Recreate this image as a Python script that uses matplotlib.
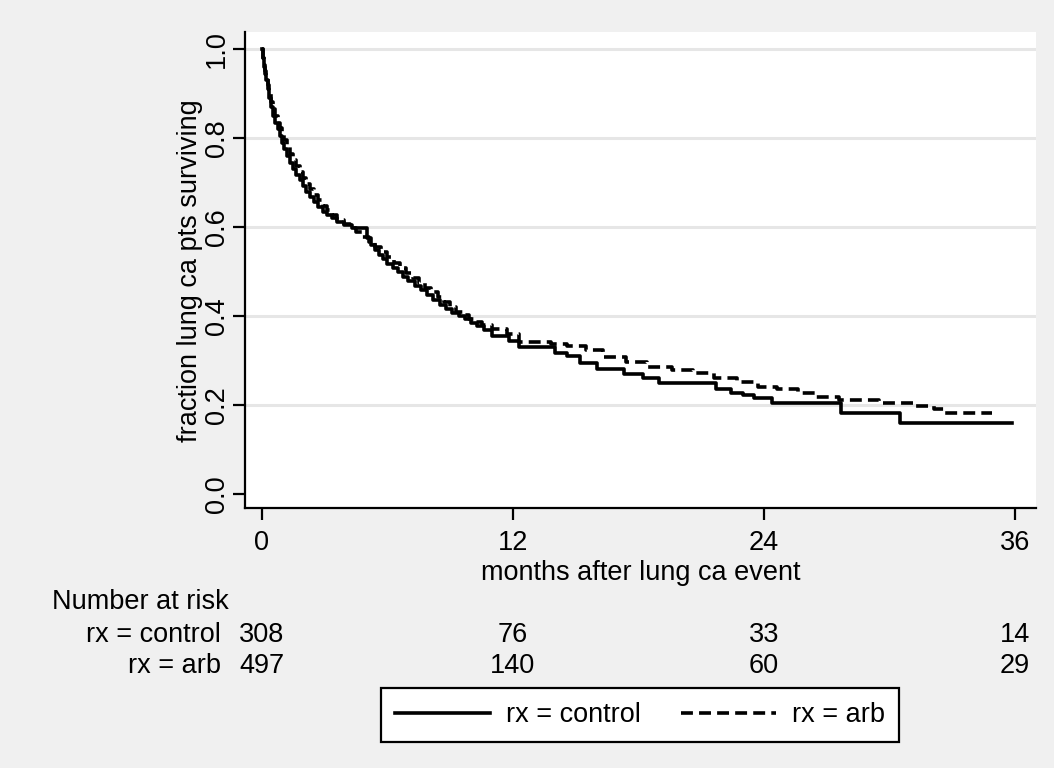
import matplotlib
matplotlib.use('Agg')
import matplotlib.pyplot as plt
import matplotlib.transforms as mtransforms
from matplotlib.lines import Line2D

plt.rcParams['font.family'] = ['Liberation Sans', 'DejaVu Sans']

# KM step points (months, fraction surviving)
t_control = [0, 0.05, 0.1, 0.15, 0.2, 0.28, 0.36, 0.45, 0.55, 0.65,
             0.75, 0.85, 0.95, 1.05, 1.2, 1.35, 1.5, 1.65, 1.8, 1.95,
             2.1, 2.3, 2.5, 2.7, 2.9, 3.1, 3.35, 3.6, 3.9, 4.3,
             5.0, 5.2, 5.4, 5.6, 5.8, 6.0, 6.25, 6.5, 6.75, 7.0,
             7.3, 7.6, 7.9, 8.2, 8.5, 8.8, 9.1, 9.4, 9.7, 10.0,
             10.3, 10.6, 11.0, 11.8, 12.3, 14.0, 14.6, 15.2, 16.0, 17.3,
             18.2, 19.0, 21.7, 22.4, 23.0, 23.5, 24.4, 27.7, 30.5, 35.85]
s_control = [1.0, 0.98, 0.96, 0.945, 0.93, 0.91, 0.89, 0.87, 0.85, 0.835,
             0.82, 0.805, 0.79, 0.775, 0.76, 0.745, 0.73, 0.718, 0.705, 0.693,
             0.68, 0.668, 0.656, 0.645, 0.635, 0.628, 0.62, 0.612, 0.605, 0.598,
             0.575, 0.56, 0.548, 0.538, 0.528, 0.518, 0.508, 0.498, 0.488, 0.478,
             0.468, 0.458, 0.448, 0.436, 0.425, 0.415, 0.407, 0.40, 0.393, 0.385,
             0.377, 0.368, 0.355, 0.345, 0.33, 0.318, 0.31, 0.295, 0.28, 0.27,
             0.26, 0.25, 0.235, 0.228, 0.222, 0.216, 0.205, 0.182, 0.16, 0.16]

t_arb = [0, 0.05, 0.1, 0.15, 0.2, 0.28, 0.36, 0.45, 0.55, 0.65,
         0.75, 0.85, 0.95, 1.05, 1.2, 1.35, 1.5, 1.65, 1.8, 1.95,
         2.1, 2.3, 2.5, 2.7, 2.9, 3.1, 3.35, 3.6, 3.9, 4.2,
         4.5, 4.8, 5.1, 5.4, 5.7, 6.0, 6.3, 6.6, 6.9, 7.2,
         7.5, 7.8, 8.1, 8.4, 8.7, 9.0, 9.3, 9.6, 9.9, 10.2,
         10.5, 11.0, 11.7, 12.3, 13.8, 14.6, 15.5, 16.3, 17.4, 18.4,
         19.6, 20.6, 21.6, 22.7, 23.7, 24.6, 25.6, 26.5, 27.6, 29.5,
         31.1, 32.1, 32.6, 34.9]
s_arb = [1.0, 0.98, 0.965, 0.952, 0.94, 0.92, 0.90, 0.882, 0.865, 0.85,
         0.835, 0.822, 0.808, 0.795, 0.78, 0.765, 0.75, 0.737, 0.723, 0.71,
         0.698, 0.685, 0.672, 0.66, 0.648, 0.638, 0.628, 0.617, 0.607, 0.597,
         0.588, 0.578, 0.567, 0.556, 0.545, 0.533, 0.52, 0.508, 0.497, 0.486,
         0.475, 0.464, 0.453, 0.442, 0.431, 0.42, 0.41, 0.402, 0.394, 0.386,
         0.379, 0.37, 0.36, 0.342, 0.338, 0.333, 0.324, 0.308, 0.297, 0.285,
         0.279, 0.272, 0.26, 0.252, 0.24, 0.236, 0.227, 0.218, 0.211, 0.204,
         0.198, 0.19, 0.182, 0.182]

risk_times = [0, 12, 24, 36]
risk_control = [308, 76, 33, 14]
risk_arb = [497, 140, 60, 29]

bg = '#f0f0f0'
fs = 19.5
lw = 2.6

fig = plt.figure(figsize=(10.54, 7.68), dpi=100, facecolor=bg)
ax = fig.add_axes([0.2324, 0.3385, 0.7506, 0.6195])
ax.set_facecolor('white')

ax.plot(t_control, s_control, drawstyle='steps-post', color='black', lw=lw,
        label='rx = control')
ax.plot(t_arb, s_arb, drawstyle='steps-post', color='black', lw=lw,
        dashes=(3.3, 1.7), label='rx = arb')

ax.set_xlim(-0.81, 37.0)
ax.set_ylim(-0.0315, 1.038)
ax.set_xticks(risk_times)
ax.set_yticks([0.0, 0.2, 0.4, 0.6, 0.8, 1.0])
ax.set_yticklabels(['0.0', '0.2', '0.4', '0.6', '0.8', '1.0'],
                   rotation=90, va='center')
for yv in [0.2, 0.4, 0.6, 0.8, 1.0]:
    ax.axhline(yv, color='#e6e6e6', lw=2.2, zorder=0)

for s in ['top', 'right']:
    ax.spines[s].set_visible(False)
for s in ['left', 'bottom']:
    ax.spines[s].set_linewidth(1.6)
ax.tick_params(axis='both', length=8.5, width=1.6, labelsize=fs, color='black')
ax.tick_params(axis='y', pad=2)
ax.tick_params(axis='x', pad=7)

ax.set_xlabel('months after lung ca event', fontsize=fs, labelpad=3)
ax.set_ylabel('fraction lung ca pts surviving', fontsize=fs, labelpad=1)

# number at risk table
tr = mtransforms.blended_transform_factory(ax.transData, fig.transFigure)
fig.text(52 / 1054, 1 - 602 / 768, 'Number at risk', fontsize=fs,
         ha='left', va='center')
fig.text(221 / 1054, 1 - 635 / 768, 'rx = control', fontsize=fs,
         ha='right', va='center')
fig.text(221 / 1054, 1 - 666 / 768, 'rx = arb', fontsize=fs,
         ha='right', va='center')
for t, nc, na in zip(risk_times, risk_control, risk_arb):
    ax.text(t, 1 - 635 / 768, str(nc), transform=tr, fontsize=fs,
            ha='center', va='center')
    ax.text(t, 1 - 666 / 768, str(na), transform=tr, fontsize=fs,
            ha='center', va='center')

handles = [Line2D([], [], color='black', lw=lw),
           Line2D([], [], color='black', lw=lw, dashes=(3.3, 1.7))]
leg = fig.legend(handles, ['rx = control', 'rx = arb'], loc='center',
                 bbox_to_anchor=(640 / 1054, 1 - 715 / 768), ncol=2,
                 fontsize=fs, frameon=True, fancybox=False,
                 handlelength=3.5, columnspacing=1.5, handletextpad=0.6,
                 borderpad=0.5)
leg.get_frame().set_edgecolor('black')
leg.get_frame().set_linewidth(1.6)
leg.get_frame().set_facecolor('white')
leg.get_frame().set_alpha(1)

fig.savefig('out.png', dpi=100, facecolor=bg)
